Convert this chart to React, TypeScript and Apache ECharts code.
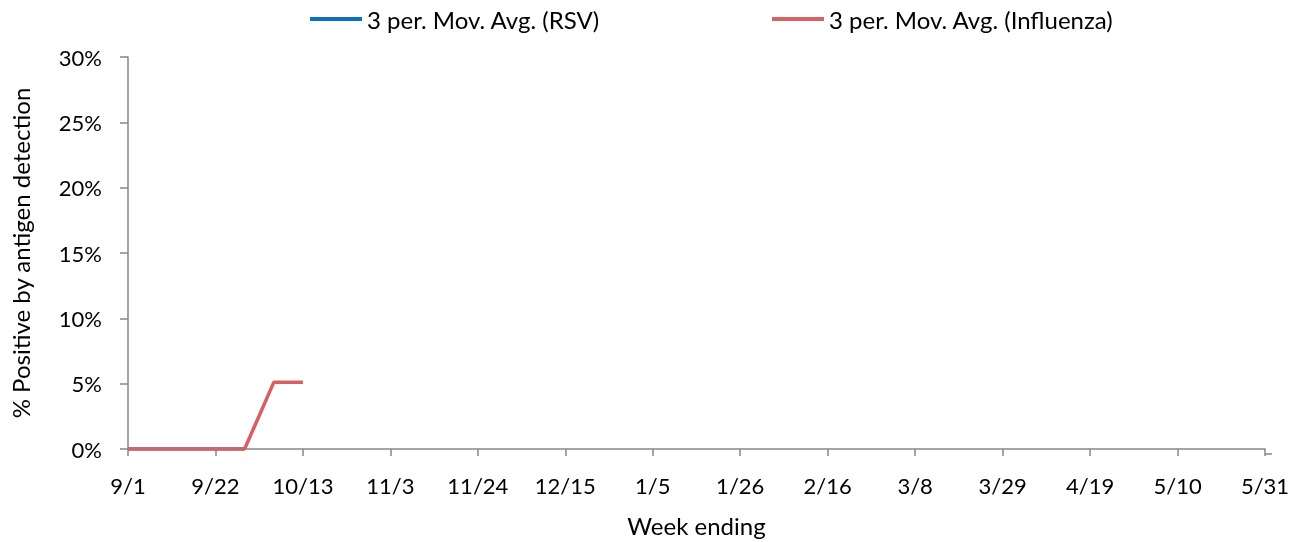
import React, { useEffect, useRef } from "react";
import * as echarts from "echarts";

const weeks = [
  "9/1", "9/8", "9/15", "9/22", "9/29", "10/6", "10/13", "10/20", "10/27", "11/3",
  "11/10", "11/17", "11/24", "12/1", "12/8", "12/15", "12/22", "12/29", "1/5", "1/12",
  "1/19", "1/26", "2/2", "2/9", "2/16", "2/23", "3/1", "3/8", "3/15", "3/22",
  "3/29", "4/5", "4/12", "4/19", "4/26", "5/3", "5/10", "5/17", "5/24", "5/31",
];

// percent positive (3 per. moving average)
const rsv: (number | null)[] = [0, 0, 0, 0, 0];
const influenza: (number | null)[] = [0, 0, 0, 0, 0, 5.1, 5.1];

const seriesNames = ["3 per. Mov. Avg. (RSV)", "3 per. Mov. Avg. (Influenza)"];
const yTicks = { min: 0, max: 30, interval: 5 };

const FONT = "Lato";
const AXIS_COLOR = "#878787";

export default function App() {
  const ref = useRef<HTMLDivElement>(null);
  useEffect(() => {
    if (!ref.current) return;
    const chart = echarts.init(ref.current, undefined, { renderer: "svg" });
    const pad = (arr: (number | null)[]) => weeks.map((_, i) => (i < arr.length ? arr[i] : null));
    const legendBase = {
      top: 2,
      icon: "rect",
      itemWidth: 52,
      itemHeight: 4,
      textStyle: { fontFamily: FONT, fontSize: 24, color: "#000" },
    };
    chart.setOption({
      animation: false,
      textStyle: { fontFamily: FONT },
      grid: { left: 126, right: 35, top: 57, bottom: 88, containLabel: false },
      legend: [
        { ...legendBase, data: [seriesNames[0]], left: 305 },
        { ...legendBase, data: [seriesNames[1]], left: 767 },
      ],
      xAxis: {
        type: "category",
        data: weeks,
        boundaryGap: false,
        name: "Week ending",
        nameLocation: "middle",
        nameGap: 64,
        nameTextStyle: { fontFamily: FONT, fontSize: 24, color: "#000" },
        axisLine: { lineStyle: { color: AXIS_COLOR, width: 1.5 } },
        axisTick: { interval: 2, length: 7, lineStyle: { color: AXIS_COLOR, width: 1.5 } },
        axisLabel: { interval: 2, margin: 25, fontFamily: FONT, fontSize: 22, color: "#000" },
        splitLine: { show: false },
      },
      yAxis: {
        type: "value",
        min: yTicks.min,
        max: yTicks.max,
        interval: yTicks.interval,
        name: "% Positive by antigen detection",
        nameLocation: "middle",
        nameGap: 96,
        nameTextStyle: { fontFamily: FONT, fontSize: 24, color: "#000" },
        axisLine: { show: true, lineStyle: { color: AXIS_COLOR, width: 1.5 } },
        axisTick: { show: true, length: 8, lineStyle: { color: AXIS_COLOR, width: 1.5 } },
        axisLabel: {
          margin: 26,
          fontFamily: FONT,
          fontSize: 22,
          color: "#000",
          formatter: (v: number) => `${v}%`,
        },
        splitLine: { show: false },
      },
      graphic: [
        {
          type: "line",
          shape: { x1: 1265, y1: 454, x2: 1272, y2: 454 },
          style: { stroke: AXIS_COLOR, lineWidth: 1.5 },
        },
      ],
      series: [
        {
          name: seriesNames[0],
          type: "line",
          data: pad(rsv),
          showSymbol: false,
          symbol: "none",
          color: "#1070C0",
          lineStyle: { width: 3.5, color: "#1070C0" },
          connectNulls: false,
        },
        {
          name: seriesNames[1],
          type: "line",
          data: pad(influenza),
          showSymbol: false,
          symbol: "none",
          color: "#D96060",
          lineStyle: { width: 3.5, color: "#D96060" },
          connectNulls: false,
        },
      ],
    });
    return () => chart.dispose();
  }, []);
  return (
    <div
      ref={ref}
      style={{ position: "fixed", left: 0, top: 0, width: 1300, height: 542 }}
    />
  );
}
